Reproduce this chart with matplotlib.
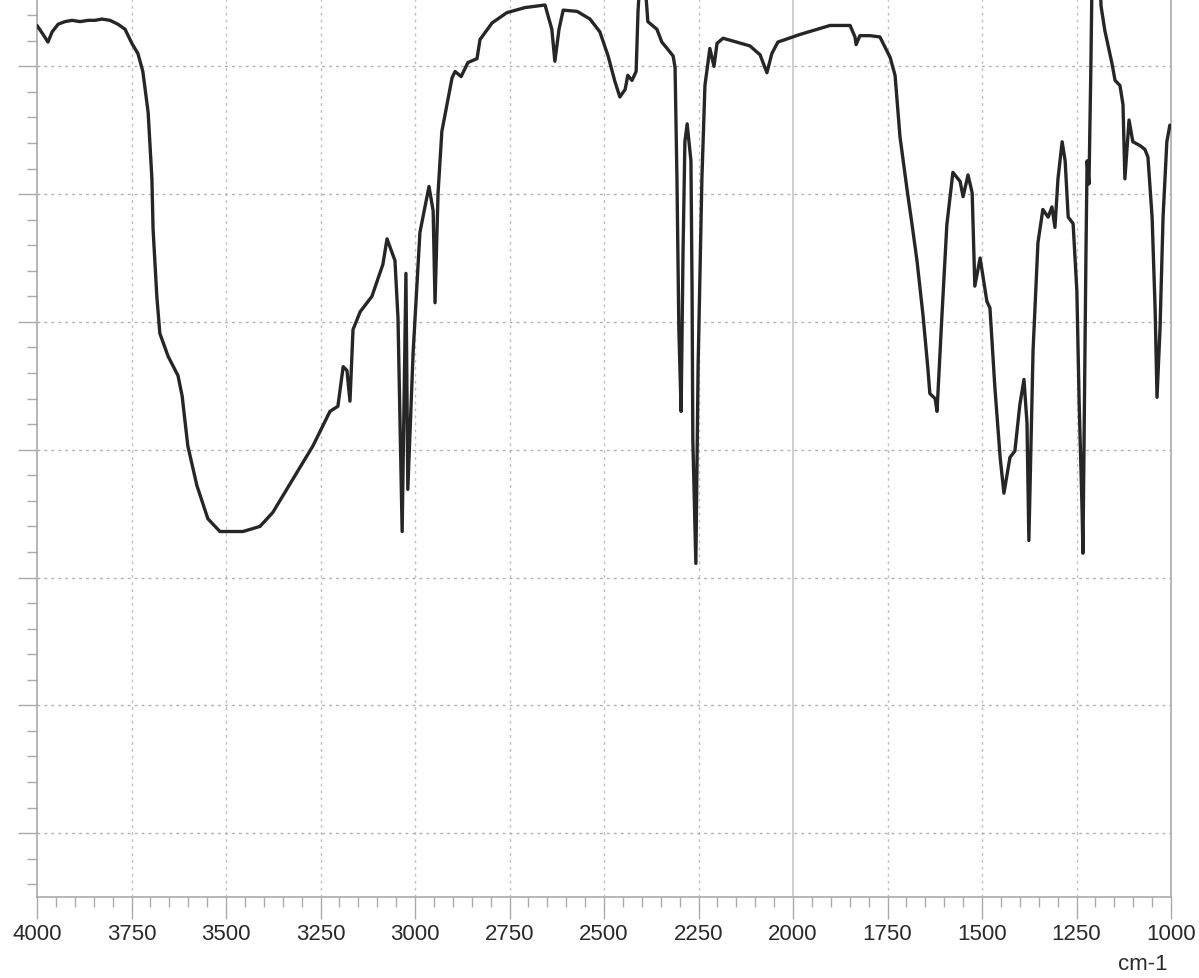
import matplotlib.pyplot as plt
from matplotlib.ticker import MultipleLocator
import numpy as np

# IR spectrum (wavenumber in cm-1, transmittance-like units)
wavenumber = [4000, 3984, 3971, 3960, 3944, 3926, 3907, 3886, 3865, 3847, 3828, 3807, 3786,
              3767, 3749, 3733, 3720, 3706, 3696, 3693, 3683, 3675, 3653, 3627, 3616, 3601,
              3577, 3548, 3516, 3455, 3410, 3376, 3323, 3270, 3225, 3204, 3190, 3180, 3172,
              3164, 3145, 3114, 3085, 3074, 3053, 3045, 3034, 3024, 3019, 3005, 2987, 2963,
              2952, 2947, 2939, 2929, 2902, 2894, 2878, 2860, 2836, 2828, 2796, 2757, 2709,
              2656, 2638, 2630, 2619, 2608, 2571, 2537, 2511, 2489, 2471, 2458, 2444, 2437,
              2426, 2415, 2410, 2405, 2392, 2386, 2384, 2360, 2347, 2333, 2317, 2312, 2307,
              2302, 2296, 2291, 2286, 2280, 2270, 2267, 2265, 2257, 2251, 2241, 2233, 2220,
              2209, 2201, 2185, 2114, 2087, 2069, 2056, 2040, 1981, 1902, 1849, 1836, 1833,
              1823, 1796, 1770, 1743, 1730, 1717, 1698, 1685, 1672, 1656, 1643, 1638, 1624,
              1619, 1606, 1593, 1577, 1558, 1550, 1537, 1526, 1519, 1505, 1487, 1479, 1466,
              1452, 1442, 1426, 1413, 1400, 1389, 1381, 1376, 1365, 1352, 1339, 1325, 1315,
              1307, 1299, 1288, 1280, 1272, 1259, 1249, 1243, 1235, 1233, 1230, 1225, 1222,
              1217, 1212, 1209, 1188, 1185, 1175, 1156, 1148, 1135, 1127, 1122, 1111, 1101,
              1082, 1069, 1061, 1050, 1042, 1037, 1029, 1021, 1011, 1003]
transmittance = [73.2, 72.5, 71.9, 72.7, 73.3, 73.5, 73.6, 73.5, 73.6, 73.6, 73.7, 73.6, 73.3,
                 72.9, 71.8, 71.0, 69.6, 66.4, 61.2, 57.3, 52.0, 49.1, 47.3, 45.8, 44.2, 40.3,
                 37.2, 34.6, 33.6, 33.6, 34.0, 35.1, 37.7, 40.3, 43.0, 43.4, 46.5, 46.2, 43.8,
                 49.4, 50.8, 52.0, 54.5, 56.5, 54.8, 50.3, 33.6, 53.8, 36.9, 47.6, 57.0, 60.6,
                 58.7, 51.5, 60.1, 64.9, 69.1, 69.6, 69.2, 70.3, 70.6, 72.1, 73.4, 74.2, 74.6,
                 74.8, 72.9, 70.4, 72.9, 74.4, 74.3, 73.7, 72.7, 70.8, 68.8, 67.6, 68.2, 69.3,
                 68.9, 69.6, 74.3, 76.8, 76.8, 74.3, 73.5, 72.9, 71.9, 71.4, 70.8, 69.9, 61.2,
                 49.5, 43.0, 55.3, 64.1, 65.5, 62.6, 52.4, 40.8, 31.1, 46.6, 61.2, 68.5, 71.4,
                 70.0, 71.8, 72.2, 71.6, 70.9, 69.5, 71.0, 71.9, 72.5, 73.2, 73.2, 72.3, 71.7,
                 72.4, 72.4, 72.3, 70.7, 69.3, 64.5, 60.3, 57.6, 54.8, 50.5, 46.3, 44.4, 44.0,
                 43.0, 50.5, 57.6, 61.7, 61.0, 59.8, 61.5, 60.1, 52.8, 55.0, 51.6, 51.1, 44.9,
                 39.4, 36.6, 39.4, 39.9, 43.5, 45.5, 42.1, 32.9, 47.7, 56.2, 58.8, 58.2, 59.0,
                 57.4, 61.2, 64.1, 62.6, 58.2, 57.7, 52.4, 43.7, 35.0, 31.9, 40.8, 55.3, 62.6,
                 60.8, 69.9, 76.8, 76.8, 74.7, 72.8, 70.2, 68.9, 68.5, 67.0, 61.2, 65.8, 64.1,
                 63.8, 63.5, 62.9, 58.2, 51.0, 44.1, 49.5, 58.2, 64.1, 65.4]

x_ticks = [4000, 3750, 3500, 3250, 3000, 2750, 2500, 2250, 2000, 1750, 1500, 1250, 1000]
y_grid = [10, 20, 30, 40, 50, 60, 70]

plt.rcParams['font.family'] = ['Liberation Sans', 'DejaVu Sans']

fig = plt.figure(figsize=(11.99, 9.79), dpi=100)
ax = fig.add_axes([37 / 1199, 81 / 979, 1134 / 1199, 898 / 979])

ax.plot(wavenumber, transmittance, color='#262626', lw=2.4, solid_joinstyle='round',
        solid_capstyle='round', zorder=3)

ax.set_xlim(4000, 1000)
ax.set_ylim(5, 75.27)

# grid: dotted, with a solid line at 2000
for xv in x_ticks[1:-1]:
    if xv == 2000:
        ax.axvline(xv, color='#c8c8c8', lw=1.2, zorder=1)
    else:
        ax.axvline(xv, color='#c0c0c0', lw=1.0, ls=(0, (2, 3)), zorder=1)
for yv in y_grid:
    ax.axhline(yv, color='#b0b0b0', lw=1.0, ls=(0, (2, 3)), zorder=1)

ax.xaxis.set_major_locator(plt.FixedLocator(x_ticks))
ax.xaxis.set_minor_locator(MultipleLocator(50))
ax.yaxis.set_major_locator(plt.FixedLocator(y_grid))
ax.yaxis.set_minor_locator(MultipleLocator(2))
ax.set_xticklabels([str(v) for v in x_ticks], fontsize=16, color='#2a2a2a')
ax.set_yticklabels([])

ax.tick_params(axis='x', which='major', direction='out', length=16, width=1,
               color='#aaaaaa', pad=3)
ax.tick_params(axis='x', which='minor', direction='out', length=7, width=1,
               color='#aaaaaa')
ax.tick_params(axis='y', which='major', direction='out', length=14, width=1,
               color='#aaaaaa')
ax.tick_params(axis='y', which='minor', direction='out', length=7, width=1,
               color='#aaaaaa')

for side in ['left', 'bottom', 'right']:
    ax.spines[side].set_color('#aaaaaa')
    ax.spines[side].set_linewidth(1.2)
ax.spines['top'].set_visible(False)

fig.text(1168 / 1199, 1 - 965 / 979, 'cm-1', ha='right', va='center', fontsize=16,
         color='#2a2a2a')

fig.savefig('out.png', dpi=100)
